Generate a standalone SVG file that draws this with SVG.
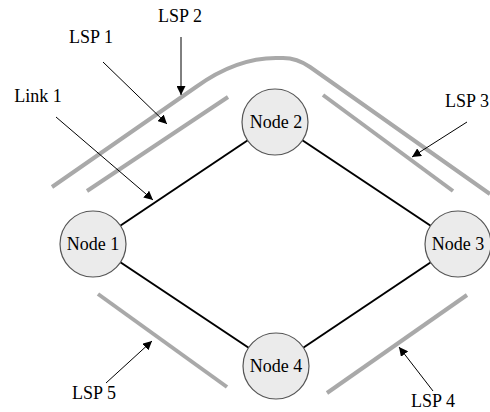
<svg xmlns="http://www.w3.org/2000/svg" width="490" height="412" viewBox="0 0 490 412">
<defs>
<marker id="ah" viewBox="0 0 10 10" refX="10" refY="5" markerWidth="9" markerHeight="9" markerUnits="userSpaceOnUse" orient="auto">
<path d="M0,0 L10,5 L0,10 Z" fill="#000"/>
</marker>
</defs>
<style>
.lsp{fill:none;stroke:#a9a9a9;stroke-width:4;stroke-linecap:butt}
.link{stroke:#000;stroke-width:2}
.arr{stroke:#000;stroke-width:1;marker-end:url(#ah)}
.node circle{fill:#ebebeb;stroke:#555;stroke-width:1.2}
text{font-family:"Liberation Serif","Times New Roman",serif;font-size:18px;fill:#000}
.c{text-anchor:middle}
</style>
<rect width="490" height="412" fill="#fff"/>
<g id="connectors">
<line class="link" x1="93" y1="244" x2="275" y2="122"/>
<line class="link" x1="275" y1="122" x2="458" y2="244"/>
<line class="link" x1="458" y1="244" x2="276" y2="366"/>
<line class="link" x1="276" y1="366" x2="93" y2="244"/>
</g>
<g id="lsps">
<path class="lsp" d="M52,187 L196,87 Q236,58 276,58 L283,58 Q297,58 310,67 L490,194"/>
<line class="lsp" x1="87" y1="191" x2="228" y2="97"/>
<line class="lsp" x1="323" y1="95" x2="453" y2="191"/>
<line class="lsp" x1="98" y1="294" x2="227" y2="387"/>
<line class="lsp" x1="327" y1="393" x2="467" y2="295"/>
</g>
<g id="arrows">
<line class="arr" x1="181" y1="37" x2="181" y2="95"/>
<line class="arr" x1="103" y1="62" x2="167" y2="124"/>
<line class="arr" x1="56" y1="117" x2="153" y2="200"/>
<line class="arr" x1="467" y1="122" x2="412" y2="157"/>
<line class="arr" x1="106" y1="383" x2="152" y2="341"/>
<line class="arr" x1="433" y1="391" x2="399" y2="347"/>
</g>
<g id="labels">
<text class="c" x="180" y="22">LSP 2</text>
<text class="c" x="91" y="43">LSP 1</text>
<text class="c" x="38" y="102">Link 1</text>
<text class="c" x="467" y="107">LSP 3</text>
<text class="c" x="94" y="399">LSP 5</text>
<text class="c" x="433" y="407">LSP 4</text>
</g>
<g id="node1" class="node"><circle cx="93" cy="244" r="33"/><text class="c" x="93" y="250">Node 1</text></g>
<g id="node2" class="node"><circle cx="275" cy="122" r="33"/><text class="c" x="276" y="128">Node 2</text></g>
<g id="node3" class="node"><circle cx="458" cy="244" r="33"/><text class="c" x="458" y="250">Node 3</text></g>
<g id="node4" class="node"><circle cx="276" cy="366" r="33"/><text class="c" x="276" y="372">Node 4</text></g>
</svg>
